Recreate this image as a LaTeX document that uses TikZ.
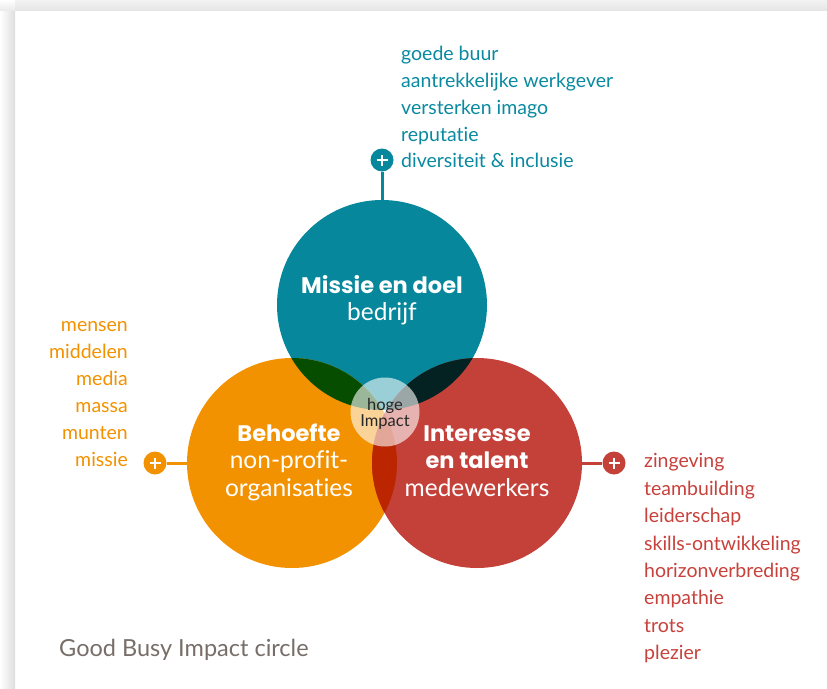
\documentclass[tikz,border=0pt]{standalone}
\usepackage{fontspec}
\setmainfont{Lato}[Ligatures={NoCommon}]
\newfontfamily\popp{Poppins}
\definecolor{cteal}{RGB}{7,135,156}
\definecolor{corange}{RGB}{243,146,0}
\definecolor{cred}{RGB}{196,65,58}
\definecolor{tealorange}{RGB}{7,77,0}
\definecolor{tealred}{RGB}{5,34,35}
\definecolor{orangered}{RGB}{187,37,0}
\definecolor{triple}{RGB}{5,20,0}
\definecolor{ttext}{RGB}{10,138,160}
\definecolor{otext}{RGB}{243,146,0}
\definecolor{rtext}{RGB}{200,66,60}
\definecolor{captext}{RGB}{120,110,105}
\tikzset{
  bigcirc/.style={circle, minimum size=210pt, inner sep=0pt},
  plusdot/.style={circle, minimum size=23pt, inner sep=0pt,
    path picture={\draw[white, line width=2.8pt]
      ([xshift=-5.5pt]path picture bounding box.center) -- ([xshift=5.5pt]path picture bounding box.center)
      ([yshift=-5.5pt]path picture bounding box.center) -- ([yshift=5.5pt]path picture bounding box.center);}},
  conn/.style={line width=3pt},
  listtext/.style={font=\fontsize{19.5}{27}\selectfont, inner sep=0pt},
  lbl/.style={text=white, inner sep=0pt, anchor=base},
  lblb/.style={lbl, font=\popp\bfseries\fontsize{22.5}{27}\selectfont},
  lblr/.style={lbl, font=\fontsize{24.5}{27}\selectfont},
  hubtext/.style={anchor=base, inner sep=0pt, text=black!85, font=\fontsize{16.5}{17}\selectfont},
}
\begin{document}
\begin{tikzpicture}[x=1pt,y=-1pt]
\useasboundingbox (0,0) rectangle (827,688);
% page shadow
\fill[white] (0,0) rectangle (827,688);
\shade[left color=white, right color=black!13] (0,10) rectangle (15,688);
\shade[top color=black!5, bottom color=black!10] (15,0) rectangle (827,10);
\shade[top color=white, bottom color=black!8] (0,0) rectangle (15,10);
% circles
\node[bigcirc, fill=cteal] (teal) at (382,305) {};
\node[bigcirc, fill=corange] (orange) at (292,463) {};
\node[bigcirc, fill=cred] (red) at (477,463) {};
\begin{scope}
  \clip (382,305) circle (105pt);
  \fill[tealorange] (292,463) circle (105pt);
  \fill[tealred] (477,463) circle (105pt);
\end{scope}
\begin{scope}
  \clip (292,463) circle (105pt);
  \clip (477,463) circle (105pt);
  \fill[orangered] (300,300) rectangle (500,600);
  \clip (382,305) circle (105pt);
  \fill[triple] (300,300) rectangle (500,600);
\end{scope}
\node[circle, minimum size=69pt, inner sep=0pt, fill=white, fill opacity=0.6] (hub) at (385,412) {};
\node[hubtext] (hoge) at (385,410) {hoge};
\node[hubtext] (impact) at (385,426) {Impact};
% circle labels
\node[lblb] (m1) at (382,293) {Missie en doel};
\node[lblr] (m2) at (382,320) {bedrijf};
\node[lblb] (b1) at (289,441) {Behoefte};
\node[lblr] (b2) at (289,468) {non-profit-};
\node[lblr] (b3) at (289,496) {organisaties};
\node[lblb] (i1) at (477,441) {Interesse};
\node[lblb] (i2) at (477,468) {en talent};
\node[lblr] (i3) at (477,496) {medewerkers};
% plus icons and connectors
\node[plusdot, fill=cteal] (tplus) at (382,160) {};
\node[plusdot, fill=corange] (oplus) at (155,463) {};
\node[plusdot, fill=cred] (rplus) at (614,463) {};
\draw[conn, cteal] (tplus.south) -- (teal.north);
\draw[conn, corange] (oplus.east) -- (orange.west);
\draw[conn, cred] (red.east) -- (rplus.west);
% teal list
\begin{scope}[every node/.style={listtext, text=ttext, anchor=base west}]
\node (t1) at (401,60) {goede buur};
\node (t2) at (401,87) {aantrekkelijke werkgever};
\node (t3) at (401,114) {versterken imago};
\node (t4) at (401,141) {reputatie};
\node (t5) at (401,167) {diversiteit \& inclusie};
\end{scope}
% orange list
\begin{scope}[every node/.style={listtext, text=otext, anchor=base east}]
\node (o1) at (128,331) {mensen};
\node (o2) at (128,358) {middelen};
\node (o3) at (128,385) {media};
\node (o4) at (128,412) {massa};
\node (o5) at (128,439.5) {munten};
\node (o6) at (128,466.5) {missie};
\end{scope}
% red list
\begin{scope}[every node/.style={listtext, text=rtext, anchor=base west}]
\node (r1) at (644,467) {zingeving};
\node (r2) at (644,495) {teambuilding};
\node (r3) at (644,522) {leiderschap};
\node (r4) at (644,550) {skills-ontwikkeling};
\node (r5) at (644,577) {horizonverbreding};
\node (r6) at (644,604.5) {empathie};
\node (r7) at (644,632) {trots};
\node (r8) at (644,659.5) {plezier};
\end{scope}
\node[anchor=base west, inner sep=0pt, text=captext, font=\fontsize{23.5}{27}\selectfont] (cap) at (59,656) {Good Busy Impact circle};
\end{tikzpicture}
\end{document}
